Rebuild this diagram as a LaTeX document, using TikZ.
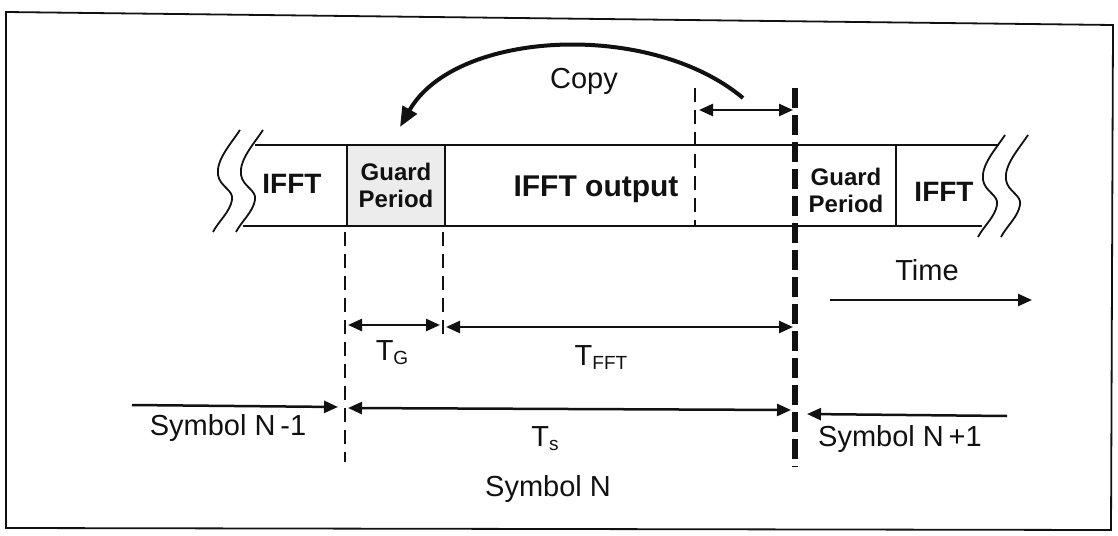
\documentclass[tikz,border=0pt]{standalone}
\usepackage{fontspec}
\setmainfont{Liberation Sans}
\usetikzlibrary{arrows.meta}
\definecolor{ink}{HTML}{111111}
\definecolor{guardfill}{HTML}{ECECEC}
\newcommand{\subtxt}[1]{\raisebox{-0.3ex}{\fontsize{19}{19}\selectfont #1}}

\tikzset{
  lbl/.style={font=\fontsize{29}{34}\selectfont, inner sep=0pt, text=ink},
  bandlbl/.style={font=\bfseries\fontsize{28}{34}\selectfont, inner sep=0pt, text=ink},
  guardlbl/.style={font=\bfseries\fontsize{24}{27}\selectfont, align=center, inner sep=0pt, text=ink},
  bandline/.style={line width=1.8pt, draw=ink},
  span/.style={line width=2.5pt, draw=ink, {Triangle[length=14pt,width=12pt]}-{Triangle[length=14pt,width=12pt]}},
  oneway/.style={line width=2.5pt, draw=ink, -{Triangle[length=14pt,width=12pt]}},
  thindash/.style={line width=2.5pt, draw=ink, dash pattern=on 14pt off 8pt},
  thickdash/.style={line width=5.5pt, draw=ink, dash pattern=on 20pt off 7pt},
  brk/.pic={
    \draw[line width=1.8pt, draw=ink] (0,0) .. controls (-10,15) and (-24,30) .. (-22,45)
      .. controls (-20,57) and (-6,60) .. (-8,70)
      .. controls (-10,82) and (-22,92) .. (-27,102);
  }
}

\begin{document}
\begin{tikzpicture}[x=1pt, y=-1pt]
  \useasboundingbox (0,0) rectangle (1118,535);

  % Frame
  \draw[line width=1.8pt, draw=ink] (6,12) -- (1113,25) -- (1111,530) -- (6,528) -- cycle;

  % Band
  \coordinate (bandTL) at (255,145);
  \coordinate (bandTR) at (999,145);
  \coordinate (bandBL) at (243,226);
  \coordinate (bandBR) at (982,226);
  \filldraw[bandline, fill=guardfill] (347,145) rectangle (445,226);
  \draw[bandline] (bandTL) -- (bandTR);
  \draw[bandline] (bandBL) -- (bandBR);
  \draw[bandline] (896,145) -- (896,226);

  % Break marks
  \pic at (240,130) {brk};
  \pic at (263,130) {brk};
  \pic at (1005,135) {brk};
  \pic at (1028,135) {brk};

  % Band texts
  \node[bandlbl, anchor=base] (ifftL) at (292,193) {IFFT};
  \node[guardlbl] (guardL) at (396,185) {Guard\\Period};
  \node[bandlbl, font=\bfseries\fontsize{30}{34}\selectfont, anchor=base] (ifftOut) at (596,196) {IFFT output};
  \node[guardlbl] (guardR) at (846,190) {Guard\\Period};
  \node[bandlbl, anchor=base] (ifftR) at (944,201) {IFFT};

  % Symbol boundaries
  \draw[thindash] (695,88) -- (695,226);
  \draw[thickdash] (795,88) -- (795,467);
  \draw[thindash] (345,232) -- (345,462);
  \draw[thindash] (443,232) -- (443,342);

  % Copy
  \coordinate (cpL) at (699,110);
  \coordinate (cpR) at (793,110);
  \draw[span] (cpL) -- (cpR);
  \coordinate (cuS) at (743,98);
  \coordinate (cuE) at (400,127);
  \draw[line width=4pt, draw=ink, -{Triangle[length=20pt,width=16pt]}]
    (cuS) .. controls (650,20) and (455,30) .. (cuE);
  \node[lbl, anchor=base] (copy) at (584,88) {Copy};

  % Time
  \coordinate (timeL) at (830,300);
  \coordinate (timeR) at (1032,300);
  \draw[oneway] (timeL) -- (timeR);
  \node[lbl, anchor=base] (time) at (927,280) {Time};

  % Durations
  \coordinate (tgL) at (348,325);
  \coordinate (tgR) at (440,325);
  \coordinate (tfL) at (446,327);
  \coordinate (tfR) at (793,327);
  \coordinate (tsL) at (348,408);
  \coordinate (tsR) at (791,410);
  \draw[span] (tgL) -- (tgR);
  \draw[span] (tfL) -- (tfR);
  \draw[span] (tsL) -- (tsR);
  \node[lbl, anchor=base] (tg) at (392,360) {T\subtxt{G}};
  \node[lbl, anchor=base] (tfft) at (601,365) {T\subtxt{FFT}};
  \node[lbl, anchor=base] (ts) at (545,446) {T\subtxt{s}};

  % Symbols
  \coordinate (prevL) at (132,405);
  \coordinate (prevR) at (338,407);
  \coordinate (nextL) at (807,414);
  \coordinate (nextR) at (1007,416);
  \draw[oneway] (prevL) -- (prevR);
  \draw[oneway] (nextR) -- (nextL);
  \node[lbl, anchor=base] (symPrev) at (228,435) {Symbol N\thinspace-1};
  \node[lbl, anchor=base] (symN) at (548,496) {Symbol N};
  \node[lbl, anchor=base] (symNext) at (900,446) {Symbol N\thinspace+1};
\end{tikzpicture}
\end{document}
